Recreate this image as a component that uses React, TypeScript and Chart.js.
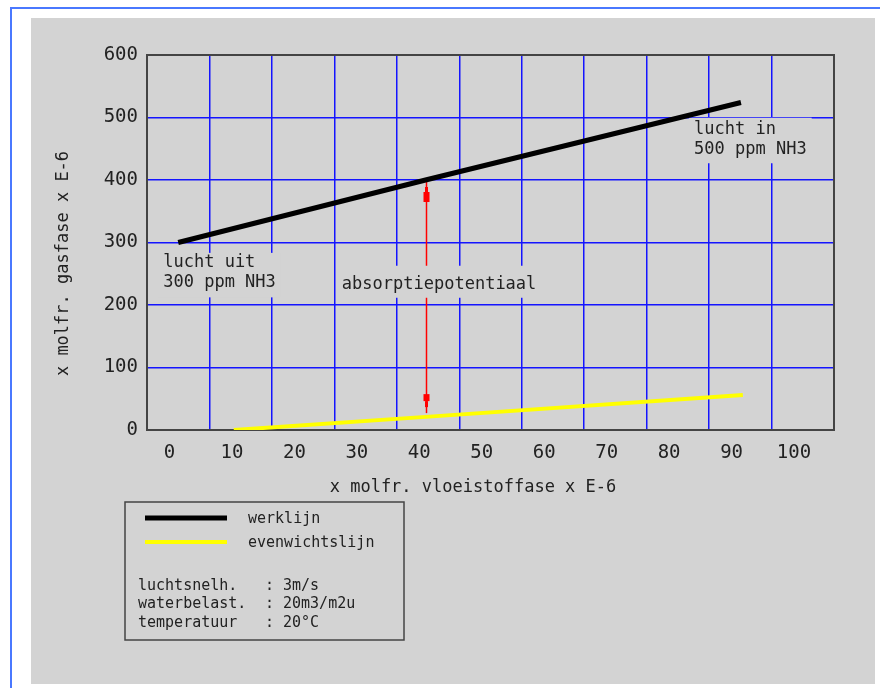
import React, { useEffect, useRef } from 'react';
import { Chart, registerables } from 'chart.js';

Chart.register(...registerables);

// ---- data ----
const werklijnX = [1.4, 41, 91.5];
const werklijnY = [300, 400, 524];
const evenwichtX = [10.3, 41, 91.8];
const evenwichtY = [0, 21, 56];

const seriesLabels = ['werklijn', 'evenwichtslijn'];

const xTickValues = [0, 10, 20, 30, 40, 50, 60, 70, 80, 90, 100];
const xTickLabels = ['0', '10', '20', '30', '40', '50', '60', '70', '80', '90', '100'];
const yTickValues = [0, 100, 200, 300, 400, 500, 600];
const yTickLabels = ['0', '100', '200', '300', '400', '500', '600'];
const xGridValues = [-3.6, 6.4, 16.4, 26.4, 36.4, 46.4, 56.4, 66.4, 76.4, 86.4, 96.4, 106.4];

const xTitle = 'x molfr. vloeistoffase x E-6';
const yTitle = 'x molfr. gasfase x E-6';

const arrowX = 41;
const arrowFrom = 400;
const arrowTo = 27;

const annotationTexts = [['lucht uit', '300 ppm NH3'], ['absorptiepotentiaal'], ['lucht in', '500 ppm NH3']];
const annotationX = [-1.0, 27.6, 84.0];
const annotationY = [261, 226, 474];

const infoLabels = ['luchtsnelh.', 'waterbelast.', 'temperatuur'];
const infoValues = ['3m/s', '20m3/m2u', '20°C'];

// ---- styles ----
const FONT = '"DejaVu Sans Mono", "Liberation Mono", monospace';
const BLUE = '#1414ff';
const TEXT = '#222222';
const GRAY = '#d3d3d3';
const annotationPadTop = [14, 23, 16];
const annotationPadBottom = [10, 9, 9];

const overlay = {
  id: 'overlay',
  beforeDatasetsDraw(chart: any) {
    const { ctx, chartArea: a, scales } = chart;
    const xs = scales.x;
    const ys = scales.y;
    ctx.save();

    // red arrow
    const ax = Math.round(xs.getPixelForValue(arrowX)) + 0.5;
    const y1 = ys.getPixelForValue(arrowFrom);
    const y2 = ys.getPixelForValue(arrowTo);
    ctx.strokeStyle = '#ff0000';
    ctx.fillStyle = '#ff0000';
    ctx.lineWidth = 1.5;
    ctx.beginPath();
    ctx.moveTo(ax, y1);
    ctx.lineTo(ax, y2);
    ctx.stroke();
    // upper head (tip up)
    const t1 = y1 + 7;
    ctx.fillRect(ax - 1.5, t1, 3, 5);
    ctx.fillRect(ax - 3, t1 + 5, 6, 10);
    // lower head (tip down)
    const t2 = y2 - 6;
    ctx.fillRect(ax - 1.5, t2 - 6, 3, 6);
    ctx.fillRect(ax - 3, t2 - 13, 6, 7);

    // annotation labels with background boxes
    ctx.font = `17px ${FONT}`;
    ctx.textBaseline = 'alphabetic';
    ctx.textAlign = 'left';
    annotationTexts.forEach((lines, i) => {
      const tx = xs.getPixelForValue(annotationX[i]);
      const ty = ys.getPixelForValue(annotationY[i]);
      const lh = 20.5;
      const w = Math.max(...lines.map((l) => ctx.measureText(l).width));
      const top = ty - annotationPadTop[i];
      const bottom = ty + lh * (lines.length - 1) + annotationPadBottom[i];
      ctx.fillStyle = GRAY;
      ctx.fillRect(tx - 5, top, w + 10, bottom - top);
      ctx.fillStyle = TEXT;
      lines.forEach((l, j) => ctx.fillText(l, tx, ty + j * lh));
    });

    // plot frame
    ctx.strokeStyle = '#444444';
    ctx.lineWidth = 2;
    ctx.strokeRect(a.left, a.top, a.right - a.left, a.bottom - a.top);
    ctx.restore();
  },
  afterDraw(chart: any) {
    const { ctx, chartArea: a } = chart;
    ctx.save();
    ctx.fillStyle = TEXT;
    ctx.font = `17px ${FONT}`;
    ctx.textBaseline = 'alphabetic';

    // x title
    ctx.textAlign = 'center';
    ctx.fillText(xTitle, (a.left + a.right) / 2 - 17.5, a.bottom + 62);

    // y title
    ctx.save();
    ctx.translate(a.left - 79, (a.top + a.bottom) / 2 + 21);
    ctx.rotate(-Math.PI / 2);
    ctx.textAlign = 'center';
    ctx.fillText(yTitle, 0, 0);
    ctx.restore();

    // legend box
    const bl = a.left - 22;
    const bt = a.bottom + 72;
    ctx.strokeStyle = '#444444';
    ctx.lineWidth = 1.5;
    ctx.strokeRect(bl, bt, 279, 138);

    ctx.font = `15px ${FONT}`;
    ctx.textAlign = 'left';
    chart.data.datasets.forEach((ds: any, i: number) => {
      const y = bt + 16 + i * 24;
      ctx.strokeStyle = ds.borderColor;
      ctx.lineWidth = ds.borderWidth;
      ctx.beginPath();
      ctx.moveTo(bl + 20, y);
      ctx.lineTo(bl + 102, y);
      ctx.stroke();
      ctx.fillStyle = TEXT;
      ctx.fillText(ds.label, bl + 123, y + 5);
    });

    const infoBase = [88, 106, 125];
    infoLabels.forEach((l, i) => {
      const y = bt + infoBase[i];
      ctx.fillText(l, bl + 13, y);
      ctx.fillText(':', bl + 140, y);
      ctx.fillText(infoValues[i], bl + 158, y);
    });
    ctx.restore();
  },
};

export default function App() {
  const ref = useRef<HTMLCanvasElement | null>(null);

  useEffect(() => {
    if (!ref.current) return;
    const chart = new Chart(ref.current, {
      type: 'scatter',
      data: {
        datasets: [
          {
            label: seriesLabels[0],
            data: werklijnX.map((x, i) => ({ x, y: werklijnY[i] })),
            showLine: true,
            borderColor: '#000000',
            backgroundColor: '#000000',
            borderWidth: 5,
            pointRadius: 0,
            xAxisID: 'x',
            yAxisID: 'y',
          },
          {
            label: seriesLabels[1],
            data: evenwichtX.map((x, i) => ({ x, y: evenwichtY[i] })),
            showLine: true,
            borderColor: '#ffff00',
            backgroundColor: '#ffff00',
            borderWidth: 4,
            pointRadius: 0,
            xAxisID: 'x',
            yAxisID: 'y',
          },
        ],
      },
      options: {
        animation: false,
        responsive: false,
        devicePixelRatio: 1,
        layout: { padding: { left: 0, top: 37, right: 41, bottom: 174 } },
        plugins: {
          legend: { display: false },
          tooltip: { enabled: false },
          title: { display: false },
        },
        scales: {
          x: {
            type: 'linear',
            axis: 'x',
            position: 'bottom',
            min: -3.6,
            max: 106.4,
            afterBuildTicks: (s: any) => {
              s.ticks = xTickValues.map((v) => ({ value: v }));
            },
            afterFit: (s: any) => {
              s.height = 80;
            },
            ticks: {
              callback: (_v: any, i: number) => xTickLabels[i],
              font: { family: FONT, size: 19 },
              color: TEXT,
              padding: 12,
              maxRotation: 0,
              autoSkip: false,
            },
            grid: { display: false, drawTicks: false },
            border: { display: false },
          },
          xg: {
            type: 'linear',
            axis: 'x',
            position: 'top',
            min: -3.6,
            max: 106.4,
            afterBuildTicks: (s: any) => {
              s.ticks = xGridValues.map((v) => ({ value: v }));
            },
            afterFit: (s: any) => {
              s.height = 0;
            },
            ticks: { display: false },
            grid: { color: BLUE, lineWidth: 1.5, drawTicks: false },
            border: { display: false },
          },
          y: {
            type: 'linear',
            position: 'left',
            min: 0,
            max: 600,
            afterBuildTicks: (s: any) => {
              s.ticks = yTickValues.map((v) => ({ value: v }));
            },
            afterFit: (s: any) => {
              s.width = 116;
            },
            ticks: {
              callback: (_v: any, i: number) => yTickLabels[i],
              font: { family: FONT, size: 19 },
              color: TEXT,
              padding: 9,
            },
            grid: { color: BLUE, lineWidth: 1.5, drawTicks: false },
            border: { display: false },
          },
        },
      } as any,
      plugins: [overlay],
    });
    return () => chart.destroy();
  }, []);

  return (
    <>
      <div
        style={{
          position: 'absolute',
          left: 10,
          top: 7,
          width: 870,
          height: 681,
          boxSizing: 'border-box',
          borderTop: '2px solid #4a78ff',
          borderLeft: '2px solid #4a78ff',
          background: '#ffffff',
        }}
      />
      <div
        style={{
          position: 'absolute',
          left: 31,
          top: 18,
          width: 844,
          height: 666,
          background: GRAY,
        }}
      >
        <canvas ref={ref} width={844} height={666} style={{ display: 'block', width: 844, height: 666 }} />
      </div>
    </>
  );
}
